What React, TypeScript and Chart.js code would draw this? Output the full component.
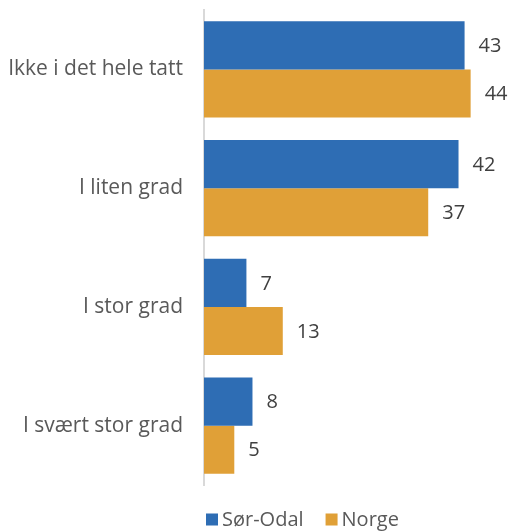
import React, { useEffect, useRef } from "react";
import { Chart, registerables } from "chart.js";

Chart.register(...registerables);

const categories = ["Ikke i det hele tatt", "I liten grad", "I stor grad", "I svært stor grad"];
const seriesNames = ["Sør-Odal", "Norge"];
const sorOdal = [43, 42, 7, 8];
const norge = [44, 37, 13, 5];
const colors = ["#2E6DB4", "#E0A037"];

const FONT = "'Open Sans', Roboto, 'Liberation Sans', sans-serif";
const TEXT = "#595959";

const valueLabels = {
  id: "valueLabels",
  afterDatasetsDraw(chart: any) {
    const ctx = chart.ctx;
    ctx.save();
    ctx.font = `20px ${FONT}`;
    ctx.fillStyle = "#404040";
    ctx.textBaseline = "middle";
    ctx.textAlign = "left";
    chart.data.datasets.forEach((ds: any, i: number) => {
      const meta = chart.getDatasetMeta(i);
      meta.data.forEach((el: any, j: number) => {
        ctx.fillText(String(ds.data[j]), el.x + 14, el.y + 1);
      });
    });
    ctx.restore();
  },
};

const customLegend = {
  id: "customLegend",
  afterDraw(chart: any) {
    const ctx = chart.ctx;
    ctx.save();
    ctx.font = `20px ${FONT}`;
    ctx.textBaseline = "middle";
    ctx.textAlign = "left";
    const y = 519.5;
    let x = 206;
    chart.data.datasets.forEach((ds: any) => {
      ctx.fillStyle = ds.backgroundColor;
      ctx.fillRect(x, y - 6, 12, 12);
      ctx.fillStyle = TEXT;
      ctx.fillText(ds.label, x + 16, y + 1);
      x += 16 + ctx.measureText(ds.label).width + 22;
    });
    ctx.restore();
  },
};

export default function App() {
  const ref = useRef<HTMLCanvasElement>(null);
  useEffect(() => {
    if (!ref.current) return;
    const chart = new Chart(ref.current, {
      type: "bar",
      data: {
        labels: categories,
        datasets: [
          { label: seriesNames[0], data: sorOdal, backgroundColor: colors[0] },
          { label: seriesNames[1], data: norge, backgroundColor: colors[1] },
        ],
      },
      options: {
        indexAxis: "y",
        animation: false,
        responsive: false,
        maintainAspectRatio: false,
        layout: { padding: { top: 10, bottom: 46, right: 5, left: 0 } },
        datasets: { bar: { categoryPercentage: 0.81, barPercentage: 1 } },
        plugins: { legend: { display: false }, tooltip: { enabled: false } },
        scales: {
          x: { display: false, min: 0, max: 50 },
          y: {
            grid: { display: false },
            border: { display: true, color: "#d9d9d9", width: 2 },
            ticks: { color: TEXT, font: { size: 21, family: FONT }, padding: 13 },
            afterFit: (scale: any) => {
              scale.width = 204;
              scale.paddingTop = 0;
              scale.paddingBottom = 0;
            },
          },
        },
      },
      plugins: [valueLabels, customLegend],
    });
    return () => chart.destroy();
  }, []);
  return (
    <div style={{ position: "absolute", left: 0, top: 0, width: 512, height: 531, background: "#fff" }}>
      <canvas ref={ref} width={512} height={531} />
    </div>
  );
}
